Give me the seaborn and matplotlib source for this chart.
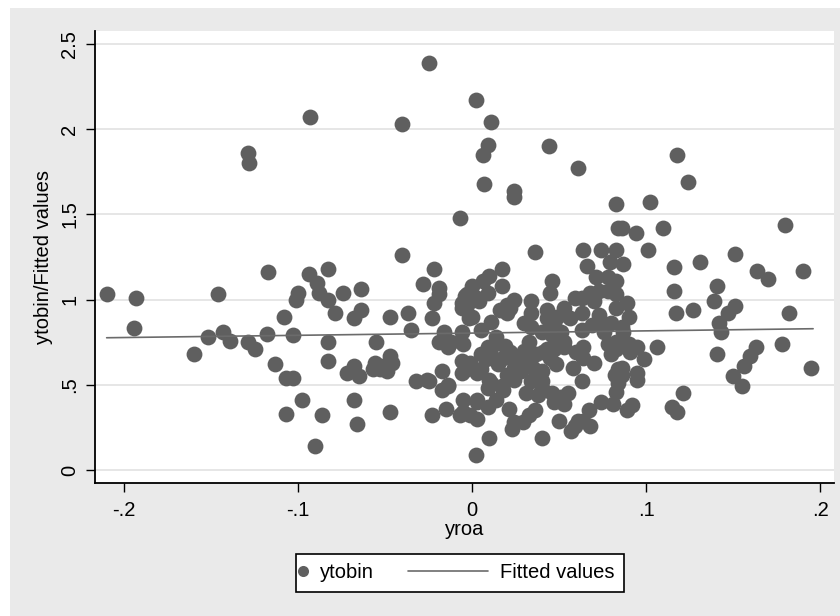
import matplotlib.pyplot as plt
import pandas as pd
import seaborn as sns
from matplotlib.legend_handler import HandlerLine2D, HandlerPathCollection
from matplotlib.patches import Rectangle

# yroa / ytobin pairs, grouped by area of the plot
yroa = [
    # upper outliers
    -0.025, 0.002, -0.093, -0.040, 0.011, -0.129, -0.128, 0.009, 0.006, 0.007, 0.024, 0.024,
    0.044, 0.061, 0.118, 0.124, 0.083, 0.102, -0.007, 0.180, 0.084, 0.086, 0.094, 0.110,
    0.036, 0.064, 0.074, 0.083, 0.101, 0.079, 0.087, 0.066, 0.116, 0.131, 0.151, -0.040,
    # around 1.0
    0.164, 0.170, 0.190, 0.071, 0.078, 0.083, 0.045, 0.046, 0.116, 0.141, 0.139, 0.151,
    0.017, 0.017, -0.022, -0.028, -0.019, -0.019, -0.022, 0.000, 0.006, 0.010, 0.009, -0.004,
    -0.006, 0.004, 0.024, 0.034, 0.059, 0.068, 0.073, 0.078, 0.083, 0.089, 0.182,
    # left side
    -0.210, -0.193, -0.146, -0.117, -0.094, -0.089, -0.088, -0.100, -0.101, -0.083, -0.083, -0.074,
    -0.064, -0.194, -0.152, -0.143, -0.139, -0.129, -0.125, -0.118, -0.160, -0.113, -0.107, -0.103,
    -0.107, -0.103, -0.098, -0.090, -0.086, -0.083, -0.083, -0.079, -0.068, -0.064, -0.108,
    # left of zero
    -0.072, -0.068, -0.065, -0.068, -0.066, -0.055, -0.057, -0.053, -0.049, -0.056, -0.047, -0.046,
    -0.047, -0.047, -0.037, -0.035, -0.032, -0.023, -0.052, -0.025, -0.017, -0.017, -0.014, -0.015,
    -0.023, -0.016, -0.019, -0.012, -0.014, -0.026, -0.014,
    # on zero
    -0.006, -0.005, -0.002, -0.003, 0.003, -0.003, -0.007, -0.005, -0.006, -0.006, -0.006, 0.000,
    0.011, 0.005, 0.014, 0.013, 0.009,
    # centre, upper band
    0.020, 0.016, 0.020, 0.022, 0.034, 0.063, 0.070, 0.063, 0.073, 0.083, 0.090, 0.043,
    0.043, 0.049, 0.053, 0.056, 0.047, 0.030, 0.034, 0.040, 0.063, 0.069, 0.075, 0.080,
    0.086, 0.087, 0.033, 0.046, 0.051, 0.053, 0.064, 0.078, 0.083, 0.090, 0.095, 0.022,
    0.041, 0.047, 0.053, 0.092, 0.083, 0.080, 0.076,
    # centre, lower band
    0.002, 0.010, 0.040, 0.023, 0.024, 0.029, 0.033, 0.036, 0.050, 0.057, 0.059, 0.061,
    0.064, 0.068, 0.067, 0.074, 0.081, 0.089, 0.092, 0.021, 0.009, 0.003, -0.001, 0.003,
    0.014, 0.031, 0.038, 0.046, 0.051, 0.055, 0.053, 0.047, 0.040, 0.040, 0.034, 0.063,
    0.083, 0.084, 0.086, 0.082, 0.086, 0.095, 0.095, 0.099, 0.064, 0.091, 0.017, 0.018,
    0.011, 0.010, 0.009, -0.005, 0.003, -0.001, 0.005, 0.003, 0.008, 0.013, 0.018, 0.026,
    0.024, 0.020, 0.024, 0.029, 0.033, 0.037, 0.045, 0.048, 0.043, -0.003, 0.084,
    # right side
    0.117, 0.127, 0.147, 0.142, 0.143, 0.106, 0.141, 0.163, 0.160, 0.178, 0.156, 0.150,
    0.155, 0.195, 0.121, 0.115, 0.118,
    # dense core
    0.015, 0.028, 0.035, 0.030, 0.019, 0.005, 0.040, 0.058, 0.060, 0.070,
]
ytobin = [
    2.39, 2.17, 2.07, 2.03, 2.04, 1.86, 1.80, 1.91, 1.85, 1.68, 1.64, 1.60,
    1.90, 1.77, 1.85, 1.69, 1.56, 1.57, 1.48, 1.44, 1.42, 1.42, 1.39, 1.42,
    1.28, 1.29, 1.29, 1.29, 1.29, 1.22, 1.21, 1.20, 1.19, 1.22, 1.27, 1.26,
    1.17, 1.12, 1.17, 1.13, 1.13, 1.11, 1.04, 1.11, 1.05, 1.08, 0.99, 0.96,
    1.18, 1.08, 1.18, 1.09, 1.07, 1.03, 0.98, 1.08, 1.11, 1.14, 1.04, 1.02,
    0.98, 0.99, 1.00, 0.99, 1.01, 1.04, 1.05, 1.05, 1.03, 0.98, 0.92,
    1.03, 1.01, 1.03, 1.16, 1.15, 1.10, 1.04, 1.04, 1.00, 1.18, 1.00, 1.04,
    1.06, 0.835, 0.78, 0.81, 0.755, 0.75, 0.71, 0.80, 0.68, 0.62, 0.54, 0.54,
    0.33, 0.79, 0.41, 0.14, 0.32, 0.75, 0.64, 0.92, 0.89, 0.94, 0.90,
    0.57, 0.61, 0.55, 0.41, 0.27, 0.75, 0.59, 0.59, 0.58, 0.63, 0.67, 0.63,
    0.34, 0.90, 0.92, 0.82, 0.52, 0.89, 0.61, 0.52, 0.58, 0.47, 0.49, 0.36,
    0.32, 0.81, 0.75, 0.75, 0.72, 0.53, 0.50,
    0.95, 0.74, 0.89, 1.03, 1.01, 0.97, 0.32, 0.34, 0.64, 0.57, 0.81, 0.90,
    0.87, 0.82, 0.78, 0.74, 0.72,
    0.97, 0.94, 0.92, 0.95, 0.92, 1.01, 0.99, 0.92, 0.91, 0.95, 0.90, 0.94,
    0.89, 0.90, 0.95, 0.89, 0.85, 0.86, 0.84, 0.81, 0.82, 0.85, 0.84, 0.86,
    0.84, 0.81, 0.75, 0.79, 0.81, 0.75, 0.72, 0.74, 0.75, 0.74, 0.72, 0.69,
    0.69, 0.71, 0.72, 0.72, 0.71, 0.68, 0.81,
    0.09, 0.19, 0.19, 0.24, 0.28, 0.28, 0.32, 0.35, 0.29, 0.23, 0.26, 0.29,
    0.29, 0.26, 0.35, 0.40, 0.39, 0.35, 0.38, 0.36, 0.37, 0.40, 0.32, 0.30,
    0.41, 0.45, 0.44, 0.45, 0.43, 0.45, 0.39, 0.40, 0.52, 0.48, 0.52, 0.52,
    0.46, 0.51, 0.56, 0.56, 0.60, 0.57, 0.53, 0.65, 0.66, 0.69, 0.49, 0.47,
    0.51, 0.53, 0.48, 0.41, 0.41, 0.63, 0.59, 0.57, 0.65, 0.65, 0.66, 0.64,
    0.60, 0.56, 0.53, 0.63, 0.65, 0.68, 0.66, 0.62, 0.71, 0.59, 0.59,
    0.92, 0.94, 0.92, 0.86, 0.81, 0.72, 0.68, 0.72, 0.67, 0.74, 0.61, 0.55,
    0.49, 0.60, 0.45, 0.37, 0.34,
    0.62, 0.58, 0.60, 0.70, 0.73, 0.68, 0.58, 0.60, 0.69, 0.63,
]

# end points of the fitted line
fit_yroa = [-0.210, 0.196]
fit_ytobin = [0.776, 0.829]

x_ticks = [-0.2, -0.1, 0, 0.1, 0.2]
x_tick_labels = ["-.2", "-.1", "0", ".1", ".2"]
y_ticks = [0, 0.5, 1, 1.5, 2, 2.5]
y_tick_labels = ["0", ".5", "1", "1.5", "2", "2.5"]

MARKER_GREY = "#5f5f5f"
LINE_GREY = "#6b6b6b"
BG_GREY = "#eaeaea"
FONT_SIZE = 14.5


class MarkerKey(HandlerPathCollection):
    # dot sits at the left edge of its key
    def get_xdata(self, legend, xdescent, ydescent, width, height, fontsize):
        x = -xdescent - 0.1 * fontsize
        return [x, x], [x]


class LongLineKey(HandlerLine2D):
    # line key is much longer than the dot key, let it run into the column gap
    def get_xdata(self, legend, xdescent, ydescent, width, height, fontsize):
        x0 = -xdescent - 3.85 * fontsize
        x1 = -xdescent + 0.12 * fontsize
        return [x0, x1], [x1]


def main() -> None:
    sns.set_theme(style="white")
    plt.rcParams["font.family"] = ["Liberation Sans", "DejaVu Sans"]

    points = pd.DataFrame({"yroa": yroa, "ytobin": ytobin})
    fitted = pd.DataFrame({"yroa": fit_yroa, "fitted": fit_ytobin})

    fig = plt.figure(figsize=(8.4, 6.16), dpi=100)
    # grey Stata graph region, with the thin white margin on the top and left
    fig.patches.append(Rectangle((10 / 840, 0), 830 / 840, 608 / 616, transform=fig.transFigure,
                                 facecolor=BG_GREY, edgecolor="none", zorder=-1))
    ax = fig.add_axes([95 / 840, 133 / 616, 739 / 840, 452 / 616])
    ax.set_facecolor("white")

    sns.scatterplot(data=points, x="yroa", y="ytobin", color=MARKER_GREY, s=130,
                    linewidth=0, label="ytobin", ax=ax, zorder=2)
    sns.lineplot(data=fitted, x="yroa", y="fitted", color=LINE_GREY, linewidth=1.2,
                 label="Fitted values", ax=ax, zorder=3)
    if ax.get_legend() is not None:
        ax.get_legend().remove()

    ax.set_xlim(-0.2167, 0.2080)
    ax.set_ylim(-0.0765, 2.5765)
    ax.set_xticks(x_ticks, x_tick_labels)
    ax.set_yticks(y_ticks, y_tick_labels)
    plt.setp(ax.get_yticklabels(), rotation=90, va="center")

    ax.yaxis.grid(True, color="#e4e4e4", linewidth=1.3)
    ax.xaxis.grid(False)
    ax.set_axisbelow(True)

    for side in ["top", "right"]:
        ax.spines[side].set_visible(False)
    for side in ["left", "bottom"]:
        ax.spines[side].set_color("black")
        ax.spines[side].set_linewidth(1.3)

    ax.tick_params(bottom=True, left=True, direction="out", length=6.5, width=1.0,
                   color="black", labelsize=FONT_SIZE, labelcolor="black")
    ax.tick_params(axis="x", pad=6.5)
    ax.tick_params(axis="y", pad=5)
    ax.set_xlabel("yroa", fontsize=FONT_SIZE, color="black", labelpad=0)
    ax.set_ylabel("ytobin/Fitted values", fontsize=FONT_SIZE, color="black", labelpad=5)

    handles, labels = ax.get_legend_handles_labels()
    leg = fig.legend(
        handles,
        labels,
        loc="upper left",
        bbox_to_anchor=(296 / 840, 1 - 554 / 616),
        ncol=2,
        fontsize=FONT_SIZE,
        frameon=True,
        fancybox=False,
        edgecolor="black",
        facecolor="white",
        framealpha=1,
        borderpad=0.47,
        borderaxespad=0,
        handlelength=0.5,
        handletextpad=0.22,
        columnspacing=5.55,
        markerscale=0.7,
        scatteryoffsets=[0.5],
        handler_map={handles[0]: MarkerKey(), handles[1]: LongLineKey()},
    )
    leg.get_frame().set_linewidth(1.2)
    for text in leg.get_texts():
        text.set_color("black")

    fig.savefig("out.png", dpi=100)
    plt.close(fig)


if __name__ == "__main__":
    main()
